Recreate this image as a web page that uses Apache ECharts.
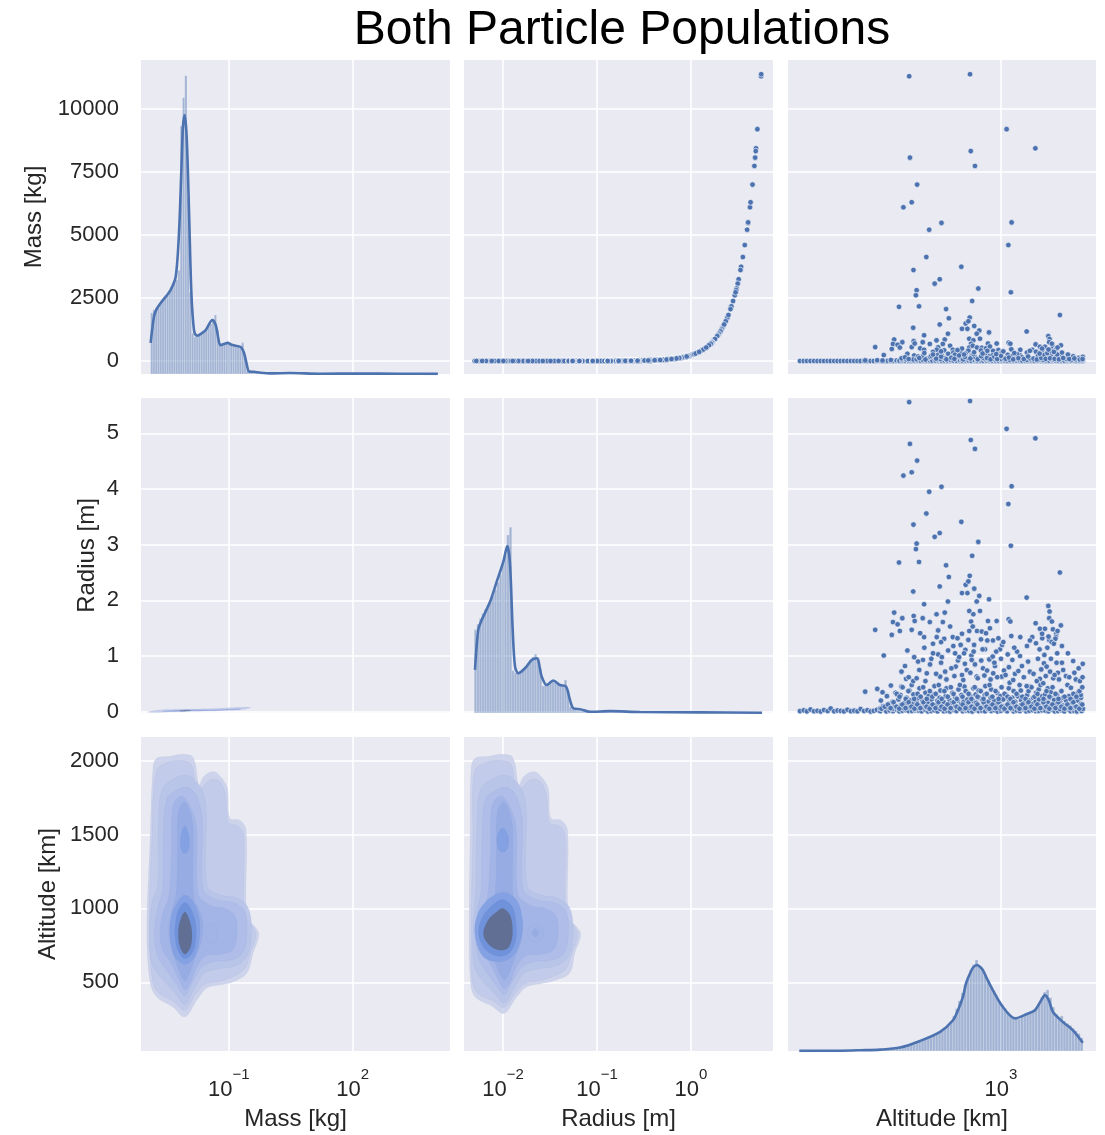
<!DOCTYPE html>
<html>
<head>
<meta charset="utf-8">
<script src="https://cdn.jsdelivr.net/npm/echarts@6/dist/echarts.min.js"></script>
<style>
  html, body { margin: 0; padding: 0; background: #ffffff; }
  #chart { width: 1105px; height: 1135px; }
</style>
</head>
<body>
<div id="chart"></div>
<script>
// ---------------------------------------------------------------
// Pair plot of debris particles: mass, radius and altitude.
// ---------------------------------------------------------------
const TITLE = 'Both Particle Populations';
const VAR_NAMES = ['Mass [kg]', 'Radius [m]', 'Altitude [km]'];

// tick values on the linear (row) axes
const MASS_TICKS = [0, 2500, 5000, 7500, 10000];
const RADIUS_TICKS = [0, 1, 2, 3, 4, 5];
const ALT_TICKS = [500, 1000, 1500, 2000];
// tick values on the log (column) axes
const MASS_LOG_TICKS = [0.1, 100];
const RADIUS_LOG_TICKS = [0.01, 0.1, 1];
const ALT_LOG_TICKS = [1000];

// ---- diagonal histograms (log10 bin start, log10 bin width, counts) ----
const MASS_HIST_START = -2.889;
const MASS_HIST_WIDTH = 0.055;
const MASS_HIST_COUNTS = [195, 205, 212, 220, 226, 234, 243, 250, 262, 275, 290,
  300, 330, 790, 880, 950, 560, 260, 130,
  118, 120, 124, 128, 135, 142, 150, 160, 170, 188, 140,
  98, 92, 96, 100, 100, 96, 92, 90, 88, 86, 100, 62, 10,
  6, 5, 4, 4, 3, 3, 2, 3, 2, 2, 1, 2, 1, 1, 1, 1, 2, 1, 1, 0, 1, 1, 0, 1, 0, 1, 1, 0, 0, 1, 0, 1];

const RADIUS_HIST_START = -2.306;
const RADIUS_HIST_WIDTH = 0.0266;
const RADIUS_HIST_COUNTS = [265, 282, 300, 316, 330, 342, 356, 372, 392, 415, 440, 470, 500, 565, 590,
  135, 128, 126, 132, 140, 148, 158, 168, 178, 187, 176, 140,
  86, 90, 95, 100, 102, 98, 94, 90, 88, 105, 70, 20,
  12, 9, 7, 6, 6, 5, 5, 4, 4, 3, 3, 3, 2, 2, 2, 2, 1, 2, 1, 1, 1, 1, 1, 0, 1, 1, 0, 1];

const ALT_HIST_START = 2.252;
const ALT_HIST_WIDTH = 0.01052;
const ALT_HIST_COUNTS = [0, 0, 0, 0, 1, 0, 0, 1, 0, 0, 1, 0, 1, 1, 0, 1, 1, 1, 2, 1,
  2, 2, 3, 2, 3, 4, 3, 4, 5, 5,
  6, 7, 8, 8, 10, 11, 13, 15, 17, 20,
  22, 26, 30, 33, 37, 41, 45, 50, 55, 60,
  66, 73, 84, 95, 112, 135, 160, 185, 210, 235,
  258, 275, 290, 270, 262, 245, 225, 208, 192, 176,
  160, 148, 136, 125, 116, 108, 104, 102, 108, 112,
  118, 122, 128, 135, 150, 172, 188, 195, 170, 140,
  118, 108, 112, 96, 88, 82, 72, 64, 56, 42];

// ---- diagonal density curves ----
// mass and radius curves: [log10 value, density in count units]
const MASS_KDE = [[-2.889, 99], [-2.809, 182], [-2.75, 205], [-2.646, 226], [-2.5, 250], [-2.404, 268],
  [-2.283, 309], [-2.203, 449], [-2.145, 650], [-2.107, 787], [-2.065, 825], [-2.017, 755], [-1.961, 522],
  [-1.903, 258], [-1.84, 140], [-1.78, 122], [-1.719, 124], [-1.557, 140], [-1.395, 172], [-1.315, 156],
  [-1.194, 92], [-1.1, 96], [-1.031, 99], [-0.91, 92], [-0.709, 86], [-0.63, 67], [-0.57, 35], [-0.508, 8],
  [-0.387, 7], [-0.225, 4], [0.017, 2], [0.477, 3], [1.2, 1], [2.17, 1.5], [3.14, 1], [4.06, 0.5]];
const RADIUS_KDE = [[-2.298, 137], [-2.263, 264], [-2.227, 295], [-2.138, 353], [-2.067, 417], [-1.997, 480],
  [-1.954, 530], [-1.926, 475], [-1.897, 264], [-1.872, 147], [-1.837, 126], [-1.766, 142], [-1.695, 168],
  [-1.641, 174], [-1.588, 115], [-1.535, 89], [-1.465, 103], [-1.394, 89], [-1.33, 84], [-1.287, 41],
  [-1.252, 15], [-1.181, 12], [-1.074, 4], [-0.862, 6], [-0.543, 3], [0.096, 2], [0.755, 1]];
// altitude curve: [km, density in count units]
const ALT_KDE = [[179, 0.3], [254, 1], [301, 2.5], [357, 4.5], [422, 11], [501, 32], [595, 61], [664, 98],
  [693, 130], [723, 172], [742, 215], [768, 247], [787, 265], [815, 274], [836, 268], [858, 257], [890, 228],
  [934, 193], [1017, 140], [1127, 104], [1248, 118], [1336, 130], [1406, 160], [1455, 178], [1506, 160],
  [1558, 124], [1697, 92], [1848, 66], [2010, 26]];

// ---- filled density contours: level index + [log10 x, y] vertices ----
const MASS_ALT_CONTOURS = [
  { level: 0, pts: [[-2.83, 1955], [-2.74, 2016], [-2.42, 2029], [-2.13, 2043], [-1.86, 2022], [-1.72, 1834], [-1.62, 1888], [-1.45, 1922], [-1.28, 1915], [-1.04, 1820], [-0.97, 1610], [-0.73, 1597], [-0.58, 1529], [-0.56, 941], [-0.36, 874], [-0.27, 820], [-0.41, 698], [-0.56, 563], [-0.90, 502], [-1.21, 482], [-1.53, 461], [-1.77, 380], [-2.06, 265], [-2.35, 333], [-2.74, 401], [-2.90, 495], [-2.98, 833], [-2.90, 1482]] },
  { level: 1, pts: [[-2.75, 1930], [-2.45, 1990], [-2.13, 2000], [-1.90, 1975], [-1.75, 1800], [-1.45, 1870], [-1.22, 1860], [-1.08, 1770], [-1.0, 1580], [-0.78, 1560], [-0.64, 1500], [-0.62, 960], [-0.42, 880], [-0.34, 820], [-0.47, 700], [-0.62, 590], [-0.95, 530], [-1.25, 505], [-1.55, 490], [-1.8, 420], [-2.06, 310], [-2.33, 370], [-2.7, 430], [-2.85, 520], [-2.92, 833], [-2.86, 1470]] },
  { level: 2, pts: [[-2.62, 1800], [-2.3, 1880], [-2.0, 1900], [-1.7, 1830], [-1.55, 1700], [-1.52, 1150], [-1.2, 1090], [-0.8, 1070], [-0.52, 1000], [-0.45, 830], [-0.55, 680], [-0.85, 610], [-1.3, 590], [-1.6, 560], [-1.85, 450], [-2.06, 350], [-2.3, 430], [-2.6, 520], [-2.85, 620], [-2.92, 830], [-2.85, 1050], [-2.72, 1150], [-2.70, 1500]] },
  { level: 3, pts: [[-2.5, 1740], [-2.25, 1800], [-2.0, 1820], [-1.78, 1760], [-1.64, 1600], [-1.62, 1130], [-1.3, 1060], [-0.9, 1040], [-0.62, 980], [-0.56, 830], [-0.66, 700], [-0.95, 650], [-1.35, 640], [-1.65, 600], [-1.88, 500], [-2.06, 410], [-2.25, 480], [-2.5, 580], [-2.72, 680], [-2.80, 830], [-2.72, 1000], [-2.6, 1120], [-2.58, 1450]] },
  { level: 4, pts: [[-2.35, 1690], [-2.15, 1760], [-1.95, 1700], [-1.78, 1550], [-1.74, 1100], [-1.45, 1020], [-1.1, 1000], [-0.85, 950], [-0.8, 830], [-0.9, 720], [-1.2, 690], [-1.55, 680], [-1.78, 600], [-1.92, 500], [-2.06, 450], [-2.2, 520], [-2.42, 640], [-2.6, 720], [-2.66, 830], [-2.6, 960], [-2.45, 1080], [-2.38, 1400]] },
  { level: 5, pts: [[-2.22, 1650], [-2.07, 1720], [-1.92, 1640], [-1.86, 1520], [-1.85, 1080], [-1.7, 980], [-1.62, 880], [-1.68, 760], [-1.82, 660], [-1.95, 560], [-2.06, 510], [-2.2, 580], [-2.35, 700], [-2.45, 830], [-2.38, 980], [-2.27, 1100], [-2.24, 1400]] },
  { level: 4, pts: [[-1.57, 833], [-1.52, 885], [-1.42, 900], [-1.3, 885], [-1.26, 833], [-1.3, 785], [-1.42, 765], [-1.52, 785]] },
  { level: 6, pts: [[-2.06, 1090], [-1.85, 1040], [-1.72, 940], [-1.70, 830], [-1.78, 700], [-1.92, 640], [-2.06, 620], [-2.2, 640], [-2.35, 700], [-2.42, 830], [-2.38, 950], [-2.22, 1050]] },
  { level: 6, pts: [[-2.06, 1560], [-1.97, 1500], [-1.95, 1450], [-1.98, 1390], [-2.06, 1370], [-2.14, 1390], [-2.17, 1450], [-2.14, 1510]] },
  { level: 7, pts: [[-2.06, 1040], [-1.9, 990], [-1.8, 900], [-1.79, 810], [-1.86, 710], [-2.06, 660], [-2.22, 710], [-2.3, 810], [-2.28, 920], [-2.2, 1000]] },
  { level: 8, pts: [[-2.06, 975], [-1.96, 930], [-1.89, 840], [-1.92, 740], [-2.06, 690], [-2.18, 740], [-2.22, 840], [-2.16, 930]] }
];

const RADIUS_ALT_CONTOURS = [
  { level: 0, pts: [[-2.338, 1955], [-2.297, 2016], [-2.151, 2029], [-2.019, 2043], [-1.896, 2022], [-1.833, 1834], [-1.787, 1888], [-1.710, 1922], [-1.632, 1915], [-1.523, 1820], [-1.491, 1610], [-1.382, 1597], [-1.314, 1529], [-1.305, 941], [-1.214, 874], [-1.173, 820], [-1.237, 698], [-1.290, 563], [-1.460, 510], [-1.601, 490], [-1.746, 470], [-1.855, 400], [-1.987, 290], [-2.119, 340], [-2.297, 401], [-2.345, 495], [-2.36, 833], [-2.35, 1482]] },
  { level: 1, pts: [[-2.301, 1930], [-2.165, 1990], [-2.019, 2000], [-1.915, 1975], [-1.846, 1800], [-1.710, 1870], [-1.605, 1860], [-1.541, 1770], [-1.505, 1580], [-1.405, 1560], [-1.341, 1500], [-1.332, 960], [-1.241, 880], [-1.205, 820], [-1.264, 700], [-1.332, 590], [-1.482, 535], [-1.619, 510], [-1.755, 495], [-1.869, 425], [-1.987, 330], [-2.110, 375], [-2.279, 430], [-2.33, 520], [-2.34, 833], [-2.32, 1470]] },
  { level: 2, pts: [[-2.242, 1800], [-2.097, 1880], [-1.960, 1900], [-1.824, 1830], [-1.755, 1700], [-1.742, 1150], [-1.596, 1090], [-1.414, 1070], [-1.287, 1000], [-1.255, 830], [-1.300, 680], [-1.437, 610], [-1.642, 590], [-1.778, 560], [-1.892, 450], [-1.987, 360], [-2.097, 430], [-2.233, 520], [-2.31, 620], [-2.32, 830], [-2.30, 1050], [-2.288, 1150], [-2.279, 1500]] },
  { level: 3, pts: [[-2.188, 1740], [-2.074, 1800], [-1.960, 1820], [-1.860, 1760], [-1.796, 1600], [-1.787, 1130], [-1.642, 1060], [-1.460, 1040], [-1.332, 980], [-1.305, 830], [-1.350, 700], [-1.482, 650], [-1.664, 640], [-1.801, 600], [-1.905, 500], [-1.987, 415], [-2.074, 480], [-2.188, 580], [-2.27, 680], [-2.29, 830], [-2.27, 1000], [-2.233, 1120], [-2.224, 1450]] },
  { level: 4, pts: [[-2.119, 1690], [-2.028, 1760], [-1.937, 1700], [-1.860, 1550], [-1.842, 1100], [-1.710, 1020], [-1.551, 1000], [-1.437, 950], [-1.414, 830], [-1.460, 720], [-1.596, 690], [-1.755, 680], [-1.860, 600], [-1.924, 500], [-1.987, 455], [-2.051, 520], [-2.151, 640], [-2.233, 720], [-2.26, 830], [-2.233, 960], [-2.165, 1080], [-2.133, 1400]] },
  { level: 5, pts: [[-2.060, 1650], [-1.992, 1720], [-1.924, 1640], [-1.896, 1520], [-1.892, 1080], [-1.824, 980], [-1.787, 880], [-1.814, 760], [-1.878, 660], [-1.937, 560], [-1.987, 515], [-2.051, 580], [-2.119, 700], [-2.165, 830], [-2.133, 980], [-2.083, 1100], [-2.069, 1400]] },
  { level: 4, pts: [[-1.74, 833], [-1.71, 880], [-1.656, 895], [-1.60, 880], [-1.575, 833], [-1.60, 785], [-1.656, 770], [-1.71, 785]] },
  { level: 5, pts: [[-1.69, 833], [-1.656, 860], [-1.62, 833], [-1.656, 806]] },
  { level: 6, pts: [[-1.996, 1110], [-1.86, 1060], [-1.80, 950], [-1.80, 830], [-1.86, 710], [-1.96, 650], [-2.08, 640], [-2.22, 680], [-2.30, 830], [-2.27, 960], [-2.16, 1060]] },
  { level: 6, pts: [[-2.0, 1545], [-1.95, 1500], [-1.94, 1460], [-1.955, 1400], [-2.0, 1380], [-2.05, 1400], [-2.065, 1460], [-2.05, 1510]] },
  { level: 7, pts: [[-2.0, 1060], [-1.90, 1010], [-1.86, 900], [-1.87, 770], [-1.95, 690], [-2.08, 680], [-2.2, 730], [-2.26, 830], [-2.22, 940], [-2.1, 1030]] },
  { level: 8, pts: [[-2.0, 1000], [-1.93, 960], [-1.90, 880], [-1.91, 780], [-1.96, 725], [-2.06, 720], [-2.16, 760], [-2.21, 830], [-2.16, 920], [-2.07, 975]] }
];

const MASS_RADIUS_CONTOURS = [
  { level: 1, pts: [[-2.95, 0.0], [-2.7, 0.03], [-2.3, 0.045], [-1.9, 0.05], [-1.5, 0.055], [-1.0, 0.07], [-0.6, 0.085], [-0.47, 0.075], [-0.6, 0.045], [-1.0, 0.03], [-1.6, 0.012], [-2.2, 0.0], [-2.7, -0.012], [-2.95, -0.01]] },
  { level: 5, pts: [[-2.6, 0.01], [-2.2, 0.03], [-1.8, 0.035], [-1.4, 0.035], [-1.0, 0.045], [-0.7, 0.055], [-0.75, 0.035], [-1.2, 0.022], [-1.8, 0.012], [-2.3, 0.005]] },
  { level: 8, pts: [[-2.2, 0.012], [-2.06, 0.026], [-1.9, 0.02], [-2.06, 0.008]] }
];

// ---- individual particles: [altitude km, radius m, mass kg] ----
const PARTICLES_LARGE = [[457, 5.56, 11300], [768, 5.58, 11380], [1049, 5.08, 9200], [1341, 4.91, 8440],
  [460, 4.81, 8070], [773, 4.88, 8330], [801, 4.72, 7740], [489, 4.51, 7000], [435, 4.24, 6100],
  [467, 4.30, 6300], [542, 3.95, 5210], [602, 4.04, 5480], [1095, 4.05, 5500], [1065, 3.73, 4600],
  [529, 3.56, 4125], [713, 3.41, 3740], [474, 3.36, 3610], [593, 3.21, 3245], [568, 3.14, 3070],
  [824, 3.05, 2875], [487, 3.02, 2810], [484, 2.92, 2610], [1088, 2.98, 2725], [419, 2.68, 2150],
  [497, 2.69, 2170], [782, 2.80, 2380], [1653, 2.50, 1825], [626, 2.63, 2060]];

const PARTICLES_MID = [[641, 2.42, 1695], [766, 2.44, 1725], [740, 2.28, 1490], [757, 2.34, 1575],
  [796, 2.21, 1390], [473, 2.16, 1320], [717, 2.13, 1275], [751, 2.13, 1275], [831, 2.08, 1210],
  [593, 2.25, 1450], [903, 2.02, 1135], [1245, 2.05, 1170], [636, 1.98, 1083], [813, 1.98, 1083],
  [519, 1.93, 1022], [763, 1.81, 884], [836, 1.81, 884], [790, 1.75, 820], [402, 1.78, 852],
  [475, 1.72, 787], [577, 1.75, 820], [619, 1.78, 852], [1497, 1.90, 988], [1514, 1.80, 873],
  [1509, 1.68, 747], [431, 1.68, 747], [513, 1.68, 747], [342, 1.47, 551], [394, 1.38, 478],
  [398, 1.61, 677], [414, 1.57, 640], [422, 1.45, 535], [467, 1.47, 551], [479, 1.63, 696],
  [502, 1.41, 502], [519, 1.34, 447], [545, 1.61, 677], [585, 1.46, 543], [578, 1.34, 447],
  [609, 1.61, 677], [616, 1.31, 425], [648, 1.53, 604], [663, 1.34, 447], [775, 1.62, 686],
  [763, 1.45, 535], [757, 1.29, 410], [786, 1.53, 604], [815, 1.45, 535], [849, 1.44, 526],
  [880, 1.41, 502], [895, 1.63, 696], [843, 1.30, 417], [964, 1.63, 696], [978, 1.32, 432],
  [1068, 1.66, 725], [1083, 1.62, 686], [1092, 1.36, 462], [1179, 1.34, 447], [1344, 1.59, 658],
  [1394, 1.49, 568], [1455, 1.49, 568], [1558, 1.48, 560], [1602, 1.40, 494], [1598, 1.34, 447],
  [1306, 1.34, 447], [1422, 1.32, 432], [1509, 1.29, 410], [1590, 1.31, 425], [1348, 1.23, 368],
  [934, 1.28, 403], [368, 1.01, 235], [450, 1.10, 286], [477, 0.98, 220], [514, 0.93, 195],
  [585, 1.03, 246], [604, 0.98, 220], [666, 1.18, 335], [709, 1.20, 348], [738, 1.11, 292],
  [777, 1.01, 235], [779, 0.93, 195], [905, 0.94, 200], [932, 0.99, 225], [992, 1.12, 298],
  [1059, 1.03, 246], [1102, 0.93, 195], [1176, 1.00, 230], [1443, 0.87, 167], [1476, 0.81, 142],
  [1531, 0.95, 205], [1607, 0.88, 172], [1682, 0.88, 172], [1851, 0.91, 185], [1939, 0.78, 128],
  [2009, 0.86, 163], [1816, 0.43, 34], [1245, 0.46, 39], [314, 0.36, 23], [348, 0.41, 30.5],
  [364, 0.35, 21], [445, 0.59, 70], [473, 0.55, 59], [428, 0.72, 108], [487, 0.60, 72],
  [531, 0.69, 98], [595, 0.63, 80], [680, 0.81, 142], [747, 0.75, 118], [813, 0.63, 80],
  [868, 0.65, 86], [936, 0.69, 98], [1007, 0.63, 80], [1077, 0.52, 52], [1394, 0.59, 70],
  [1434, 0.51, 50], [1562, 0.60, 72], [391, 0.47, 41],
  [546, 0.85, 159], [621, 0.72, 108], [693, 0.92, 190], [717, 0.66, 89], [801, 0.85, 159],
  [858, 0.78, 128], [950, 0.82, 147], [1026, 0.74, 115], [1127, 0.68, 95], [1196, 0.82, 147],
  [1280, 0.72, 108], [1371, 0.95, 205], [1625, 0.70, 102], [1740, 0.64, 83], [1894, 0.58, 67],
  [441, 0.82, 147], [493, 0.90, 181], [637, 1.10, 286], [676, 1.05, 257], [873, 1.12, 297],
  [1009, 1.20, 348], [1147, 1.08, 274], [1682, 1.18, 335], [1770, 1.05, 257], [560, 1.22, 361],
  [717, 1.40, 494], [910, 1.50, 577], [1248, 1.18, 335], [1544, 1.62, 686], [1667, 1.55, 622],
  [455, 0.62, 78], [498, 0.75, 118], [525, 0.55, 59], [552, 0.95, 205], [575, 0.68, 95],
  [600, 0.88, 172], [628, 0.58, 67], [655, 0.78, 128], [672, 0.64, 83], [700, 0.98, 220],
  [725, 0.57, 64], [735, 0.86, 163], [770, 0.70, 102], [792, 1.08, 274], [820, 0.60, 72],
  [845, 0.92, 190], [888, 0.74, 115], [915, 0.58, 67], [945, 0.88, 172], [968, 0.62, 78],
  [1000, 0.95, 205], [1040, 0.66, 89], [1070, 0.80, 139], [1110, 0.57, 64], [1160, 0.73, 113],
  [1215, 0.62, 78], [1260, 0.90, 181], [1320, 0.68, 95], [1357, 0.55, 59], [1410, 0.76, 123],
  [1448, 1.02, 241], [1465, 0.64, 83], [1485, 1.15, 316], [1520, 0.72, 108], [1540, 1.25, 382],
  [1580, 0.66, 89], [1615, 1.05, 257], [1640, 0.58, 67], [1700, 0.75, 118], [1790, 0.62, 78],
  [1870, 0.70, 102], [1960, 0.55, 59], [2005, 0.62, 78],
  [520, 1.15, 316], [560, 1.05, 257], [600, 1.25, 382], [690, 1.32, 432], [730, 1.05, 257],
  [795, 1.20, 348], [855, 1.12, 297], [890, 1.28, 403], [960, 1.08, 274], [1020, 1.25, 382],
  [1120, 1.15, 316], [1280, 1.28, 403], [1390, 1.12, 297], [1420, 1.40, 494], [1500, 1.35, 455],
  [1570, 1.22, 361], [1620, 1.45, 535]];

const PARTICLES_BAND = [[357, 0.06, 0.39], [359, 0.2, 6.0], [366, 0.1, 1.2], [376, 0.08, 0.74], [378, 0.28, 12.8],
  [385, 0.14, 2.7], [395, 0.05, 0.26], [397, 0.18, 4.7], [405, 0.11, 1.5], [407, 0.34, 20],
  [415, 0.07, 0.55], [417, 0.22, 7.4], [426, 0.12, 1.9], [424, 0.3, 15], [428, 0.45, 38],
  [437, 0.06, 0.39], [439, 0.16, 3.6], [449, 0.1, 1.2], [447, 0.25, 9.9], [460, 0.08, 0.74],
  [462, 0.2, 6.0], [458, 0.38, 26], [472, 0.14, 2.7], [474, 0.31, 16], [484, 0.05, 0.26],
  [486, 0.18, 4.7], [497, 0.11, 1.5], [495, 0.25, 9.9], [499, 0.42, 32], [510, 0.07, 0.55],
  [512, 0.2, 6.0], [523, 0.12, 1.9], [525, 0.34, 20], [537, 0.06, 0.39], [535, 0.16, 3.6],
  [539, 0.28, 12.8], [551, 0.1, 1.2], [553, 0.22, 7.4], [565, 0.08, 0.74], [563, 0.31, 16],
  [567, 0.46, 39], [580, 0.14, 2.7], [582, 0.2, 6.0], [595, 0.05, 0.26], [593, 0.25, 9.9],
  [597, 0.38, 26], [610, 0.11, 1.5], [612, 0.18, 4.7], [626, 0.07, 0.55], [624, 0.28, 12.8],
  [628, 0.42, 32], [643, 0.12, 1.9], [645, 0.21, 6.7], [659, 0.06, 0.39], [657, 0.16, 3.6],
  [661, 0.34, 20], [676, 0.1, 1.2], [678, 0.25, 9.9], [694, 0.08, 0.74], [692, 0.2, 6.0],
  [696, 0.4, 29], [712, 0.14, 2.7], [714, 0.3, 15], [730, 0.05, 0.26], [728, 0.18, 4.7],
  [732, 0.45, 38], [749, 0.11, 1.5], [751, 0.22, 7.4], [747, 0.35, 21], [768, 0.07, 0.55],
  [770, 0.28, 12.8], [788, 0.12, 1.9], [786, 0.2, 6.0], [790, 0.42, 32], [808, 0.06, 0.39],
  [810, 0.16, 3.6], [806, 0.31, 16], [829, 0.1, 1.2], [831, 0.25, 9.9], [827, 0.38, 26],
  [851, 0.08, 0.74], [853, 0.21, 6.7], [873, 0.14, 2.7], [871, 0.3, 15], [875, 0.46, 39],
  [895, 0.05, 0.26], [897, 0.18, 4.7], [918, 0.11, 1.5], [916, 0.25, 9.9], [920, 0.4, 29],
  [942, 0.07, 0.55], [944, 0.2, 6.0], [966, 0.12, 1.9], [968, 0.34, 20], [992, 0.06, 0.39],
  [990, 0.16, 3.6], [994, 0.28, 12.8], [1017, 0.1, 1.2], [1019, 0.22, 7.4], [1044, 0.08, 0.74],
  [1042, 0.31, 16], [1071, 0.14, 2.7], [1073, 0.2, 6.0], [1069, 0.42, 32], [1099, 0.05, 0.26],
  [1101, 0.25, 9.9], [1127, 0.11, 1.5], [1129, 0.18, 4.7], [1156, 0.07, 0.55], [1154, 0.28, 12.8],
  [1186, 0.12, 1.9], [1188, 0.21, 6.7], [1184, 0.38, 26], [1217, 0.06, 0.39], [1219, 0.16, 3.6],
  [1248, 0.1, 1.2], [1250, 0.3, 15], [1280, 0.08, 0.74], [1278, 0.2, 6.0], [1282, 0.45, 38],
  [1313, 0.14, 2.7], [1315, 0.25, 9.9], [1347, 0.05, 0.26], [1345, 0.18, 4.7], [1349, 0.34, 20],
  [1382, 0.11, 1.5], [1384, 0.22, 7.4], [1380, 0.4, 29], [1418, 0.07, 0.55], [1420, 0.28, 12.8],
  [1455, 0.12, 1.9], [1453, 0.2, 6.0], [1457, 0.31, 16], [1492, 0.06, 0.39], [1494, 0.16, 3.6],
  [1490, 0.42, 32], [1531, 0.1, 1.2], [1533, 0.25, 9.9], [1529, 0.35, 21], [1571, 0.08, 0.74],
  [1573, 0.21, 6.7], [1611, 0.14, 2.7], [1613, 0.3, 15], [1653, 0.05, 0.26], [1655, 0.18, 4.7],
  [1696, 0.11, 1.5], [1698, 0.25, 9.9], [1740, 0.07, 0.55], [1742, 0.2, 6.0], [1785, 0.12, 1.9],
  [1787, 0.28, 12.8], [1831, 0.06, 0.39], [1833, 0.16, 3.6], [1878, 0.1, 1.2], [1880, 0.22, 7.4],
  [1927, 0.08, 0.74], [1925, 0.2, 6.0], [1929, 0.34, 20], [1977, 0.14, 2.7], [1979, 0.25, 9.9],
  [1975, 0.3, 15],
  [361, 0.055, 0.32], [371, 0.09, 0.97], [381, 0.13, 2.3], [390, 0.065, 0.47], [400, 0.17, 4.2],
  [410, 0.09, 0.97], [411, 0.32, 17.5], [420, 0.055, 0.32], [421, 0.27, 11.9], [431, 0.13, 2.3],
  [432, 0.44, 36], [443, 0.065, 0.47], [444, 0.23, 8.3], [455, 0.17, 4.2], [454, 0.37, 24],
  [466, 0.09, 0.97], [467, 0.48, 44], [478, 0.055, 0.32], [477, 0.23, 8.3], [490, 0.13, 2.3],
  [491, 0.32, 17.5], [503, 0.065, 0.47], [504, 0.27, 11.9], [516, 0.17, 4.2], [515, 0.44, 36],
  [530, 0.09, 0.97], [531, 0.23, 8.3], [544, 0.055, 0.32], [545, 0.37, 24], [558, 0.13, 2.3],
  [557, 0.27, 11.9], [572, 0.065, 0.47], [573, 0.32, 17.5], [587, 0.17, 4.2], [588, 0.48, 44],
  [602, 0.09, 0.97], [603, 0.23, 8.3], [618, 0.055, 0.32], [617, 0.37, 24], [634, 0.13, 2.3],
  [635, 0.27, 11.9], [651, 0.065, 0.47], [652, 0.44, 36], [668, 0.17, 4.2], [667, 0.32, 17.5],
  [685, 0.09, 0.97], [686, 0.23, 8.3], [703, 0.055, 0.32], [704, 0.48, 44], [721, 0.13, 2.3],
  [720, 0.27, 11.9], [739, 0.065, 0.47], [740, 0.37, 24], [758, 0.17, 4.2], [759, 0.32, 17.5],
  [778, 0.09, 0.97], [777, 0.23, 8.3], [798, 0.055, 0.32], [799, 0.44, 36], [818, 0.13, 2.3],
  [819, 0.27, 11.9], [840, 0.065, 0.47], [841, 0.37, 24], [862, 0.17, 4.2], [861, 0.23, 8.3],
  [884, 0.09, 0.97], [885, 0.32, 17.5], [906, 0.055, 0.32], [907, 0.48, 44], [930, 0.13, 2.3],
  [929, 0.27, 11.9], [954, 0.065, 0.47], [955, 0.37, 24], [979, 0.17, 4.2], [980, 0.23, 8.3],
  [1004, 0.09, 0.97], [1005, 0.44, 36], [1030, 0.055, 0.32], [1031, 0.32, 17.5], [1057, 0.13, 2.3],
  [1058, 0.27, 11.9], [1085, 0.065, 0.47], [1084, 0.23, 8.3], [1113, 0.17, 4.2], [1114, 0.37, 24],
  [1141, 0.09, 0.97], [1142, 0.32, 17.5], [1171, 0.055, 0.32], [1172, 0.48, 44], [1201, 0.13, 2.3],
  [1200, 0.27, 11.9], [1232, 0.065, 0.47], [1233, 0.23, 8.3], [1264, 0.17, 4.2], [1265, 0.37, 24],
  [1296, 0.09, 0.97], [1297, 0.44, 36], [1330, 0.055, 0.32], [1331, 0.27, 11.9], [1364, 0.13, 2.3],
  [1365, 0.32, 17.5], [1400, 0.065, 0.47], [1401, 0.48, 44], [1436, 0.17, 4.2], [1437, 0.23, 8.3],
  [1473, 0.09, 0.97], [1474, 0.37, 24], [1511, 0.055, 0.32], [1512, 0.27, 11.9], [1551, 0.13, 2.3],
  [1552, 0.44, 36], [1591, 0.065, 0.47], [1592, 0.32, 17.5], [1632, 0.17, 4.2], [1633, 0.23, 8.3],
  [1674, 0.09, 0.97], [1675, 0.37, 24], [1718, 0.055, 0.32], [1719, 0.27, 11.9], [1762, 0.13, 2.3],
  [1763, 0.48, 44], [1808, 0.065, 0.47], [1809, 0.23, 8.3], [1854, 0.17, 4.2], [1855, 0.32, 17.5],
  [1902, 0.09, 0.97], [1903, 0.27, 11.9], [1952, 0.055, 0.32], [1953, 0.37, 24], [2000, 0.13, 2.3],
  [2001, 0.44, 36]];

const PARTICLES_SMALL = [[180, 0.011, 0.0083], [186, 0.024, 0.049], [191, 0.0068, 0.0028], [197, 0.04, 0.16],
  [203, 0.0095, 0.006], [209, 0.017, 0.022], [215, 0.005, 0.0014], [221, 0.03, 0.081], [228, 0.0125, 0.011],
  [234, 0.058, 0.36], [241, 0.0078, 0.0038], [248, 0.021, 0.036], [255, 0.0148, 0.016], [262, 0.0062, 0.0023],
  [270, 0.036, 0.12], [278, 0.0105, 0.0075], [286, 0.019, 0.029], [294, 0.0086, 0.0048], [302, 0.048, 0.24],
  [311, 0.0135, 0.013], [320, 0.027, 0.063], [329, 0.0055, 0.0017], [338, 0.016, 0.019], [347, 0.033, 0.10],
  [357, 0.0099, 0.0065], [366, 0.053, 0.29], [376, 0.007, 0.003], [387, 0.023, 0.044], [398, 0.0115, 0.0092],
  [409, 0.044, 0.19], [420, 0.0083, 0.0044], [431, 0.0175, 0.024], [443, 0.029, 0.075], [455, 0.012, 0.010],
  [468, 0.0142, 0.015], [481, 0.025, 0.054], [494, 0.02, 0.032], [508, 0.0092, 0.0055], [522, 0.038, 0.14],
  [536, 0.0065, 0.0025], [551, 0.013, 0.012], [566, 0.026, 0.059], [582, 0.0072, 0.0032], [598, 0.046, 0.21],
  [614, 0.0102, 0.007], [631, 0.018, 0.025], [648, 0.0058, 0.0019], [666, 0.031, 0.087], [684, 0.0128, 0.012],
  [703, 0.055, 0.32], [722, 0.008, 0.004], [742, 0.022, 0.040], [762, 0.0152, 0.017], [783, 0.006, 0.0021],
  [805, 0.034, 0.11], [827, 0.0108, 0.008], [850, 0.0195, 0.030], [873, 0.0088, 0.005], [897, 0.042, 0.17],
  [921, 0.0138, 0.014], [946, 0.028, 0.069], [972, 0.0052, 0.0015], [999, 0.0165, 0.021], [1026, 0.035, 0.115],
  [1054, 0.0097, 0.0063], [1083, 0.05, 0.26], [1113, 0.0074, 0.0034], [1143, 0.0225, 0.042], [1175, 0.0118, 0.0098],
  [1207, 0.043, 0.18], [1240, 0.0081, 0.0042], [1274, 0.018, 0.025], [1309, 0.0295, 0.078], [1345, 0.0122, 0.011],
  [1382, 0.0145, 0.016], [1420, 0.0245, 0.051], [1459, 0.0205, 0.034], [1499, 0.009, 0.0053], [1540, 0.039, 0.15],
  [1582, 0.0066, 0.0026], [1626, 0.0132, 0.013], [1670, 0.0265, 0.061], [1716, 0.0076, 0.0036], [1763, 0.045, 0.20],
  [1811, 0.0101, 0.0069], [1861, 0.0185, 0.027], [1912, 0.006, 0.0021], [1964, 0.032, 0.094], [1990, 0.0127, 0.012],
  [2012, 0.052, 0.28]];

// ---------------------------------------------------------------
// layout and styling
// ---------------------------------------------------------------
const FONT = "'Liberation Sans', Arial, Helvetica, sans-serif";
const TEXT = '#262626';
const BLUE = '#4c72b0';
const PANEL_BG = '#eaeaf2';
const CONTOUR_FILLS = ['#c8cfe9', '#c0c9e8', '#b7c3e8', '#adbce7', '#a2b4e6', '#96abe4', '#809fe2', '#6d8fd9', '#5e6a8a'];

const COL_BOX = [[141, 309], [464, 309], [788, 308]];
const ROW_BOX = [[60, 314], [398, 315], [737, 314]];
const X_LOG_RANGE = [[-3.122, 4.354], [-2.415, 0.872], [2.211, 3.352]];
const Y_RANGE = [[-516, 11944], [-0.023, 5.634], [35, 2160]];
const X_TICKS = [MASS_LOG_TICKS, RADIUS_LOG_TICKS, ALT_LOG_TICKS];
const Y_TICKS = [MASS_TICKS, RADIUS_TICKS, ALT_TICKS];
const Y_NAME_GAP = [95, 42, 81];

const particles = PARTICLES_SMALL.concat(PARTICLES_BAND, PARTICLES_MID, PARTICLES_LARGE);

function supText(e) {
  return (e < 0 ? '\u2212' : '') + Math.abs(e);
}

const grids = [], xAxes = [], yAxes = [];
for (let r = 0; r < 3; r++) {
  for (let c = 0; c < 3; c++) {
    const idx = r * 3 + c;
    grids.push({
      left: COL_BOX[c][0], top: ROW_BOX[r][0], width: COL_BOX[c][1], height: ROW_BOX[r][1],
      show: true, backgroundColor: PANEL_BG, borderWidth: 0, containLabel: false, outerBoundsMode: 'none'
    });
    xAxes.push({
      gridIndex: idx, type: 'log', logBase: 10,
      min: Math.pow(10, X_LOG_RANGE[c][0]), max: Math.pow(10, X_LOG_RANGE[c][1]),
      axisLine: { show: false },
      axisTick: { show: false, customValues: X_TICKS[c] },
      splitLine: { show: true, lineStyle: { color: '#ffffff', width: 1.6 } },
      axisLabel: r === 2 ? {
        show: true, customValues: X_TICKS[c], margin: 16,
        formatter: v => '{b|10}{s|' + supText(Math.round(Math.log10(v))) + '}',
        rich: {
          b: { fontSize: 22, lineHeight: 34, verticalAlign: 'bottom', color: TEXT, fontFamily: FONT },
          s: { fontSize: 15, lineHeight: 34, verticalAlign: 'top', color: TEXT, fontFamily: FONT }
        }
      } : { show: false, customValues: X_TICKS[c] },
      name: r === 2 ? VAR_NAMES[c] : '',
      nameLocation: 'middle', nameGap: 56,
      nameTextStyle: { fontSize: 24, color: TEXT, fontFamily: FONT }
    });
    yAxes.push({
      gridIndex: idx, type: 'value', min: Y_RANGE[r][0], max: Y_RANGE[r][1],
      axisLine: { show: false },
      axisTick: { show: false, customValues: Y_TICKS[r] },
      splitLine: { show: true, lineStyle: { color: '#ffffff', width: 1.6 } },
      axisLabel: c === 0 ? {
        show: true, customValues: Y_TICKS[r], margin: 22,
        formatter: v => String(v),
        fontSize: 22, color: TEXT, fontFamily: FONT
      } : { show: false, customValues: Y_TICKS[r] },
      name: c === 0 ? VAR_NAMES[r] : '',
      nameLocation: 'middle', nameGap: Y_NAME_GAP[r],
      nameTextStyle: { fontSize: 24, color: TEXT, fontFamily: FONT }
    });
  }
}
// hidden count axes for the diagonal histograms (indices 9, 10, 11)
[0, 4, 8].forEach(g => yAxes.push({ gridIndex: g, type: 'value', min: 0, max: 1000, show: false }));

function histSeries(axis, countAxis, start, width, counts) {
  return {
    type: 'custom', xAxisIndex: axis, yAxisIndex: countAxis, clip: true, silent: true, z: 2,
    data: counts.map((n, i) => [Math.pow(10, start + i * width), Math.pow(10, start + (i + 1) * width), n]),
    encode: { x: [0, 1], y: 2 },
    renderItem(params, api) {
      const a = api.coord([api.value(0), api.value(2)]);
      const b = api.coord([api.value(1), 0]);
      return {
        type: 'rect',
        shape: { x: a[0], y: a[1], width: b[0] - a[0], height: b[1] - a[1] },
        style: { fill: 'rgba(76,114,176,0.45)', stroke: 'rgba(255,255,255,0.35)', lineWidth: 0.6 }
      };
    }
  };
}

function kdeSeries(axis, countAxis, pts) {
  return {
    type: 'line', xAxisIndex: axis, yAxisIndex: countAxis, data: pts, smooth: 0.3,
    showSymbol: false, silent: true, clip: true, z: 3,
    lineStyle: { color: BLUE, width: 2.6 }
  };
}

function contourSeries(axis, shapes) {
  return {
    type: 'custom', xAxisIndex: axis, yAxisIndex: axis, clip: true, silent: true, z: 2,
    data: shapes.map((s, i) => [Math.pow(10, s.pts[0][0]), s.pts[0][1], i]),
    encode: { x: 0, y: 1 },
    renderItem(params, api) {
      const s = shapes[params.dataIndex];
      const pts = s.pts.map(p => api.coord([Math.pow(10, p[0]), p[1]]));
      return {
        type: 'polygon',
        shape: { points: pts, smooth: 0.35 },
        style: { fill: CONTOUR_FILLS[s.level], opacity: 0.88, stroke: 'rgba(76,114,176,0.10)', lineWidth: 0.6 }
      };
    }
  };
}

function scatterSeries(axis, data) {
  return {
    type: 'scatter', xAxisIndex: axis, yAxisIndex: axis, data: data, symbolSize: 5.6,
    silent: true, z: 3,
    itemStyle: { color: BLUE, borderColor: '#ffffff', borderWidth: 0.6, opacity: 1 }
  };
}

const series = [
  // mass diagonal
  histSeries(0, 9, MASS_HIST_START, MASS_HIST_WIDTH, MASS_HIST_COUNTS),
  kdeSeries(0, 9, MASS_KDE.map(p => [Math.pow(10, p[0]), p[1]])),
  // mass vs radius and mass vs altitude
  scatterSeries(1, particles.map(p => [p[1], p[2]])),
  scatterSeries(2, particles.map(p => [p[0], p[2]])),
  // radius vs mass density
  contourSeries(3, MASS_RADIUS_CONTOURS),
  // radius diagonal
  histSeries(4, 10, RADIUS_HIST_START, RADIUS_HIST_WIDTH, RADIUS_HIST_COUNTS),
  kdeSeries(4, 10, RADIUS_KDE.map(p => [Math.pow(10, p[0]), p[1]])),
  // radius vs altitude
  scatterSeries(5, particles.map(p => [p[0], p[1]])),
  // altitude vs mass / radius densities
  contourSeries(6, MASS_ALT_CONTOURS),
  contourSeries(7, RADIUS_ALT_CONTOURS),
  // altitude diagonal
  histSeries(8, 11, ALT_HIST_START, ALT_HIST_WIDTH, ALT_HIST_COUNTS),
  kdeSeries(8, 11, ALT_KDE)
];

const chart = echarts.init(document.getElementById('chart'), null, { renderer: 'canvas' });
chart.setOption({
  animation: false,
  backgroundColor: '#ffffff',
  title: {
    text: TITLE, left: 617, top: 2, textAlign: 'center',
    textStyle: { fontSize: 48, fontWeight: 'normal', color: '#000000', fontFamily: FONT }
  },
  grid: grids,
  xAxis: xAxes,
  yAxis: yAxes,
  series: series
});
</script>
</body>
</html>
